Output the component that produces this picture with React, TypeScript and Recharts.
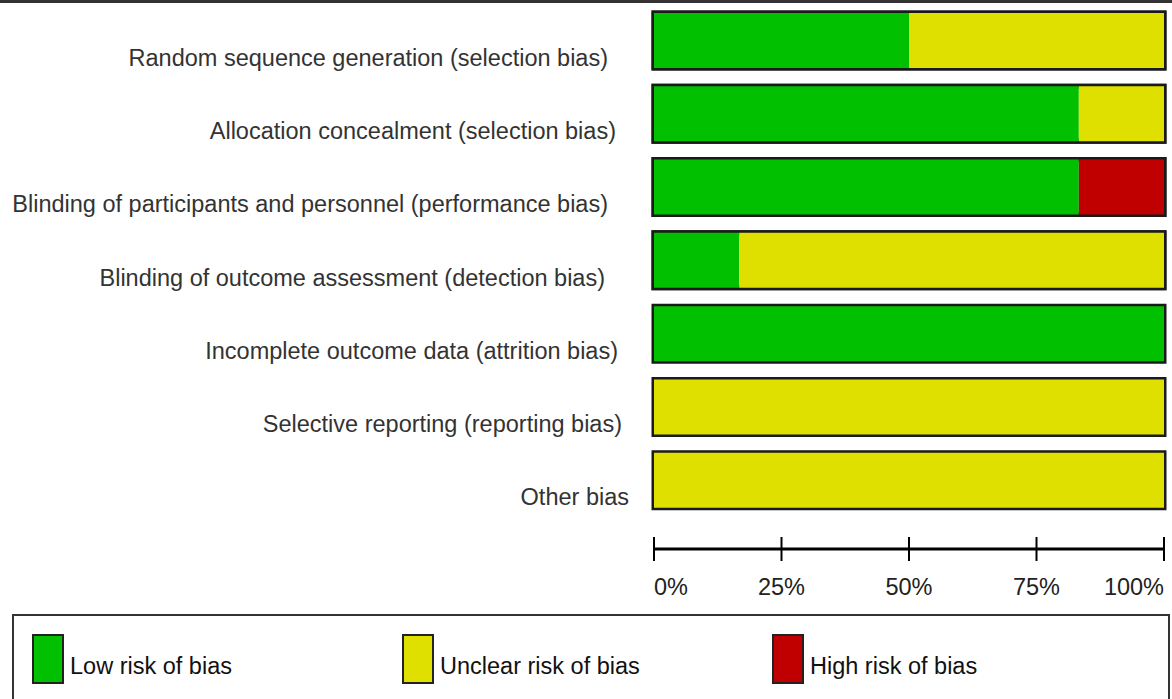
import React from "react";
import { Bar, BarChart, Legend, XAxis, YAxis } from "recharts";

const DOMAINS = [
  "Random sequence generation (selection bias)",
  "Allocation concealment (selection bias)",
  "Blinding of participants and personnel (performance bias)",
  "Blinding of outcome assessment (detection bias)",
  "Incomplete outcome data (attrition bias)",
  "Selective reporting (reporting bias)",
  "Other bias",
];

const LOW = [50, 83.3, 83.3, 16.7, 100, 0, 0];
const UNCLEAR = [50, 16.7, 0, 83.3, 0, 100, 100];
const HIGH = [0, 0, 16.7, 0, 0, 0, 0];

const X_TICKS = [0, 25, 50, 75, 100];

const LEGEND_ITEMS = [
  { key: "low", label: "Low risk of bias", color: "#00c000" },
  { key: "unclear", label: "Unclear risk of bias", color: "#e0e000" },
  { key: "high", label: "High risk of bias", color: "#c00000" },
];

// the original figure's labels don't line up exactly on the right
const LABEL_NUDGE = [-6, 2, -6, -9, 4, 8, 15];

const data = DOMAINS.map((name, i) => ({
  name,
  low: LOW[i],
  unclear: UNCLEAR[i],
  high: HIGH[i],
}));

const FONT = "'Liberation Sans', Arial, Helvetica, sans-serif";
const OUTLINE = { fill: "none", stroke: "#1a1a1a", strokeWidth: 5 };

function DomainTick({ x, y, payload, index }: any) {
  return (
    <text
      x={x + (LABEL_NUDGE[index] || 0)}
      y={y}
      dy={25}
      textAnchor="end"
      fontSize={23.5}
      fontFamily={FONT}
      fill="#333"
    >
      {payload.value}
    </text>
  );
}

function PercentTick({ x, y, payload, index }: any) {
  const anchor = index === 0 ? "start" : index === X_TICKS.length - 1 ? "end" : "middle";
  return (
    <g>
      <line x1={x} x2={x} y1={y - 12} y2={y + 12} stroke="#000" strokeWidth={2} />
      <text x={x} y={y + 46} textAnchor={anchor} fontSize={23.5} fontFamily={FONT} fill="#222">
        {payload.value}%
      </text>
    </g>
  );
}

function LegendBox() {
  return (
    <div
      style={{
        position: "absolute",
        left: 12,
        top: 614,
        width: 1158,
        height: 100,
        border: "2px solid #333",
        boxSizing: "border-box",
        fontFamily: FONT,
        fontSize: 23.5,
        color: "#111",
      }}
    >
      {LEGEND_ITEMS.map((item, i) => (
        <div
          key={item.key}
          style={{
            position: "absolute",
            left: 18 + i * 370,
            top: 18,
            display: "flex",
            alignItems: "flex-end",
          }}
        >
          <span
            style={{
              display: "inline-block",
              width: 28,
              height: 46,
              background: item.color,
              border: "2px solid #222",
            }}
          />
          <span style={{ marginLeft: 6, lineHeight: "30px", position: "relative", top: -3 }}>
            {item.label}
          </span>
        </div>
      ))}
    </div>
  );
}

export default function App() {
  return (
    <div
      style={{
        position: "fixed",
        left: 0,
        top: 0,
        width: 1172,
        height: 699,
        overflow: "hidden",
        background: "#fff",
      }}
    >
      <BarChart
        width={1172}
        height={612}
        data={data}
        layout="vertical"
        margin={{ top: 4, right: 8, bottom: 0, left: 0 }}
        barSize={55}
      >
        <XAxis
          type="number"
          domain={[0, 100]}
          ticks={X_TICKS}
          height={63}
          tickSize={0}
          tickMargin={0}
          axisLine={{ stroke: "#000", strokeWidth: 3 }}
          tickLine={false}
          tick={<PercentTick />}
          interval={0}
        />
        <YAxis
          type="category"
          dataKey="name"
          width={654}
          axisLine={false}
          tickLine={false}
          tickSize={0}
          tickMargin={40}
          padding={{ top: 0, bottom: 32 }}
          tick={<DomainTick />}
          interval={0}
        />
        <Legend content={<LegendBox />} wrapperStyle={{ position: "absolute", left: 0, top: 0 }} />
        <Bar dataKey="low" stackId="rob" fill="#00c000" isAnimationActive={false} background={OUTLINE} />
        <Bar dataKey="unclear" stackId="rob" fill="#e0e000" isAnimationActive={false} background={OUTLINE} />
        <Bar dataKey="high" stackId="rob" fill="#c00000" isAnimationActive={false} background={OUTLINE} />
      </BarChart>
      <div
        style={{
          position: "absolute",
          left: 0,
          top: 0,
          width: 1172,
          height: 3,
          background: "#333",
          zIndex: 5,
        }}
      />
    </div>
  );
}
